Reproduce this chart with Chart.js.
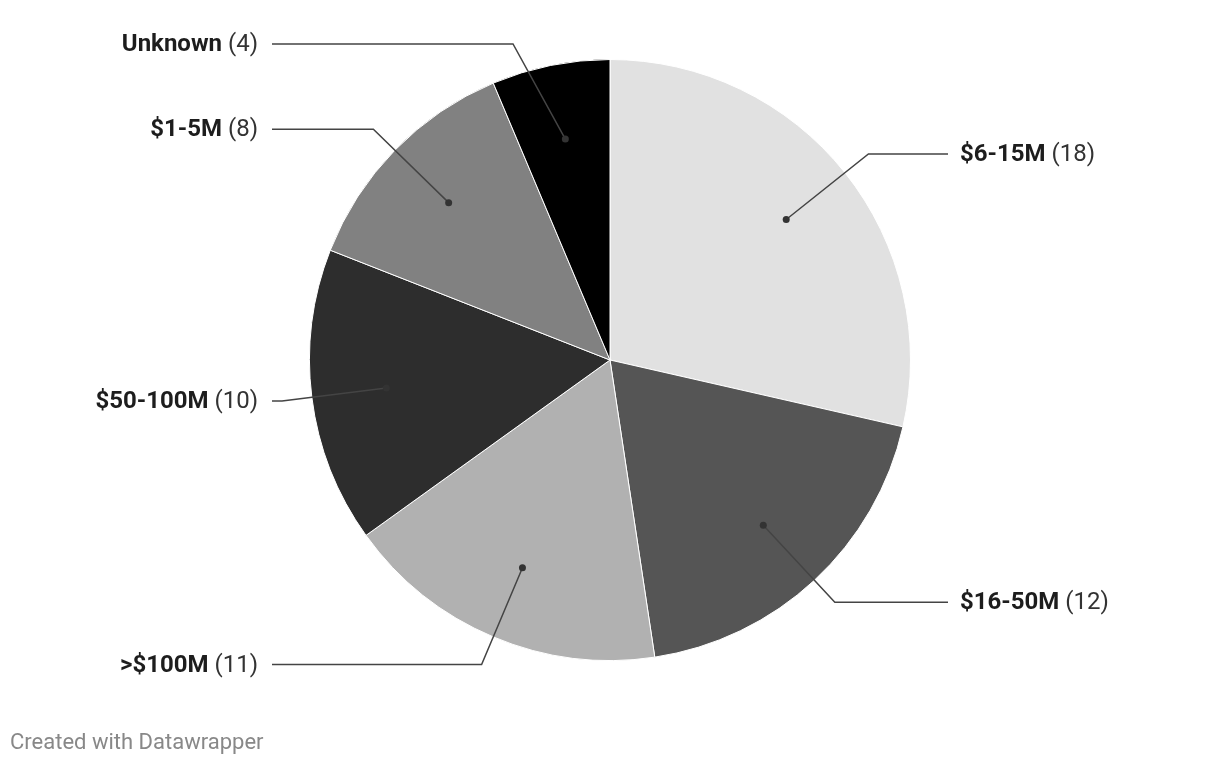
<!DOCTYPE html>
<html>
<head>
<meta charset="utf-8">
<script src="https://cdn.jsdelivr.net/npm/chart.js@4/dist/chart.umd.min.js"></script>
<style>
  html, body { margin: 0; padding: 0; background: #fff; }
  #wrap { position: relative; width: 1220px; height: 766px; }
  #footer { position: absolute; left: 10px; top: 731px; line-height: 22px; font-family: Roboto, sans-serif; font-size: 22px; color: #888; }
</style>
</head>
<body>
<div id="wrap">
  <canvas id="c" width="1220" height="766"></canvas>
  <div id="footer">Created with Datawrapper</div>
</div>
<script>
const categories = ["$6-15M", "$16-50M", ">$100M", "$50-100M", "$1-5M", "Unknown"];
const counts = [18, 12, 11, 10, 8, 4];
const colors = ["#e1e1e1", "#555555", "#b1b1b1", "#2d2d2d", "#818181", "#000000"];

const leaderPlugin = {
  id: 'leaders',
  afterDatasetsDraw(chart) {
    const ctx = chart.ctx;
    const meta = chart.getDatasetMeta(0);
    ctx.save();
    meta.data.forEach((arc, i) => {
      const p = arc.getProps(['x', 'y', 'startAngle', 'endAngle', 'outerRadius'], true);
      const cx = p.x, cy = p.y, r = p.outerRadius;
      const mid = (p.startAngle + p.endAngle) / 2;
      const dx = cx + 0.75 * r * Math.cos(mid);
      const dy = cy + 0.75 * r * Math.sin(mid);
      const R = 1.1 * r;
      let ly = cy + R * Math.sin(mid);
      const minY = cy - 316, maxY = cy + 316;
      ly = Math.max(minY, Math.min(maxY, ly));
      const right = Math.cos(mid) >= 0;
      const side = right ? 1 : -1;
      const ex = cx + side * Math.sqrt(Math.max(0, R * R - (ly - cy) * (ly - cy)));
      const hx = cx + side * 338;
      ctx.strokeStyle = '#444';
      ctx.lineWidth = 1.5;
      ctx.beginPath();
      ctx.moveTo(dx, dy);
      ctx.lineTo(ex, ly);
      ctx.lineTo(hx, ly);
      ctx.stroke();
      ctx.fillStyle = '#333';
      ctx.beginPath();
      ctx.arc(dx, dy, 3.5, 0, Math.PI * 2);
      ctx.fill();
      // label
      const boldTxt = categories[i];
      const regTxt = ' (' + counts[i] + ')';
      ctx.textBaseline = 'middle';
      ctx.font = 'bold 24px Roboto';
      const bw = ctx.measureText(boldTxt).width;
      ctx.font = '24px Roboto';
      const rw = ctx.measureText(regTxt).width;
      const tx = right ? cx + 350 : cx - 352 - bw - rw;
      ctx.textAlign = 'left';
      ctx.font = 'bold 24px Roboto';
      ctx.fillStyle = '#1d1d1d';
      ctx.fillText(boldTxt, tx, ly + 1);
      ctx.font = '24px Roboto';
      ctx.fillStyle = '#333';
      ctx.fillText(regTxt, tx + bw, ly + 1);
    });
    ctx.restore();
  }
};

new Chart(document.getElementById('c'), {
  type: 'pie',
  data: {
    labels: categories,
    datasets: [{
      data: counts,
      backgroundColor: colors,
      borderColor: '#ffffff',
      borderWidth: 1
    }]
  },
  options: {
    responsive: false,
    animation: false,
    layout: { padding: { top: 59, bottom: 105, left: 0, right: 0 } },
    plugins: {
      legend: { display: false },
      tooltip: { enabled: false }
    }
  },
  plugins: [leaderPlugin]
});
</script>
</body>
</html>
